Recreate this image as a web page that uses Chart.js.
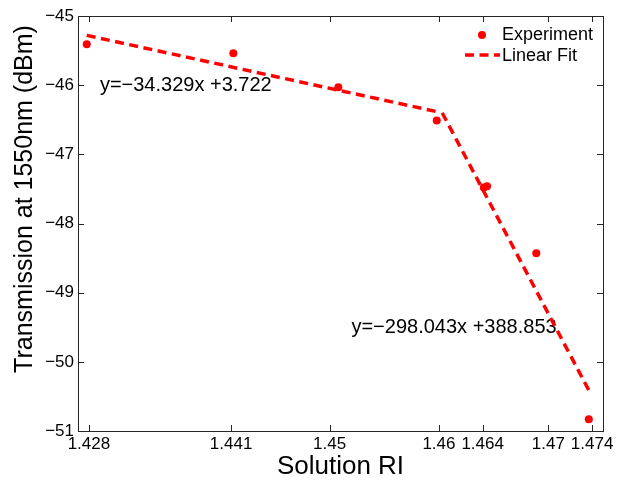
<!DOCTYPE html>
<html>
<head>
<meta charset="utf-8">
<script src="https://cdn.jsdelivr.net/npm/chart.js@4.4.1/dist/chart.umd.min.js"></script>
<style>
html,body{margin:0;padding:0;background:#fff;}
canvas{display:block;}
</style>
</head>
<body>
<canvas id="c" width="628" height="480"></canvas>
<script>
// ---- data ----
const solutionRI   = [1.4278, 1.4412, 1.4508, 1.4598, 1.4641, 1.4644, 1.4689, 1.4737];
const transmission = [-45.41, -45.54, -46.03, -46.51, -47.48, -47.46, -48.43, -50.83];
const fit1X = [1.4278, 1.4600];
const fit1Y = [-45.28, -46.39];
const fit2X = [1.4603, 1.4737];
const fit2Y = [-46.40, -50.41];
const xTickValues = [1.428, 1.441, 1.45, 1.46, 1.464, 1.47, 1.474];
const xTickLabels = ['1.428', '1.441', '1.45', '1.46', '1.464', '1.47', '1.474'];
const yTickValues = [-45, -46, -47, -48, -49, -50, -51];
const yTickLabels = ['\u221245', '\u221246', '\u221247', '\u221248', '\u221249', '\u221250', '\u221251'];
const annotationTexts = ['y=\u221234.329x +3.722', 'y=\u2212298.043x +388.853'];
const annotationX = [1.4290, 1.4520];
const annotationY = [-46.01, -49.50];
const legendLabels = ['Experiment', 'Linear Fit'];

const FONT = "'Liberation Sans', Arial, sans-serif";
const RED = '#ff0000';
const AXIS = '#262626';

const toXY = (xs, ys) => xs.map((x, i) => ({x: x, y: ys[i]}));

const framePlugin = {
  id: 'frame',
  beforeDatasetsDraw(chart) {
    const ctx = chart.ctx, a = chart.chartArea;
    const xs = chart.scales.x, ys = chart.scales.y;
    // annotations (drawn under the lines)
    ctx.save();
    ctx.fillStyle = '#000';
    ctx.font = '20px ' + FONT;
    ctx.textAlign = 'left';
    ctx.textBaseline = 'middle';
    annotationTexts.forEach((t, i) => {
      ctx.fillText(t, xs.getPixelForValue(annotationX[i]), ys.getPixelForValue(annotationY[i]));
    });
    ctx.restore();
  },
  afterDatasetsDraw(chart) {
    const ctx = chart.ctx, a = chart.chartArea;
    const xs = chart.scales.x, ys = chart.scales.y;
    const tl = 6;
    ctx.save();
    ctx.strokeStyle = AXIS;
    ctx.lineWidth = 1;
    ctx.beginPath();
    xTickValues.forEach(v => {
      const p = Math.round(xs.getPixelForValue(v)) + 0.5;
      ctx.moveTo(p, a.bottom); ctx.lineTo(p, a.bottom - tl);
      ctx.moveTo(p, a.top); ctx.lineTo(p, a.top + tl);
    });
    yTickValues.forEach(v => {
      const p = Math.round(ys.getPixelForValue(v)) + 0.5;
      ctx.moveTo(a.left, p); ctx.lineTo(a.left + tl, p);
      ctx.moveTo(a.right, p); ctx.lineTo(a.right - tl, p);
    });
    ctx.stroke();
    ctx.strokeRect(a.left + 0.5, a.top + 0.5, a.right - a.left, a.bottom - a.top);

    // y axis title
    ctx.fillStyle = '#000';
    ctx.font = '25px ' + FONT;
    ctx.textAlign = 'center';
    ctx.textBaseline = 'middle';
    ctx.translate(25, 199);
    ctx.rotate(-Math.PI / 2);
    ctx.fillText('Transmission at 1550nm (dBm)', 0, 0);
    ctx.setTransform(1, 0, 0, 1, 0, 0);

    // legend
    const lx = 482, ly1 = 35, ly2 = 55;
    ctx.fillStyle = RED;
    ctx.beginPath();
    ctx.arc(lx, ly1, 4, 0, Math.PI * 2);
    ctx.fill();
    ctx.strokeStyle = RED;
    ctx.lineWidth = 3.5;
    ctx.setLineDash([9, 5.5]);
    ctx.beginPath();
    ctx.moveTo(465, ly2); ctx.lineTo(500, ly2);
    ctx.stroke();
    ctx.setLineDash([]);
    ctx.fillStyle = '#000';
    ctx.font = '18px ' + FONT;
    ctx.textAlign = 'left';
    ctx.textBaseline = 'middle';
    ctx.fillText(legendLabels[0], 502, ly1);
    ctx.fillText(legendLabels[1], 502, ly2 + 1);
    ctx.restore();
  }
};

new Chart(document.getElementById('c'), {
  type: 'scatter',
  data: {
    datasets: [
      {
        label: legendLabels[1],
        data: toXY(fit1X, fit1Y),
        showLine: true,
        borderColor: RED,
        borderWidth: 3.5,
        borderDash: [9, 5.5],
        pointRadius: 0,
        fill: false
      },
      {
        label: legendLabels[1] + ' 2',
        data: toXY(fit2X, fit2Y),
        showLine: true,
        borderColor: RED,
        borderWidth: 3.5,
        borderDash: [9, 5.5],
        pointRadius: 0,
        fill: false
      },
      {
        label: legendLabels[0],
        data: toXY(solutionRI, transmission),
        showLine: false,
        pointRadius: 4,
        pointBackgroundColor: RED,
        pointBorderColor: RED,
        pointBorderWidth: 0
      }
    ]
  },
  options: {
    responsive: false,
    animation: false,
    devicePixelRatio: 1,
    layout: {padding: {top: 16, right: 25, left: 0, bottom: 0}},
    plugins: {legend: {display: false}, tooltip: {enabled: false}},
    scales: {
      x: {
        type: 'linear',
        min: 1.427,
        max: 1.475,
        afterBuildTicks: s => { s.ticks = xTickValues.map(v => ({value: v})); },
        afterFit: s => { s.height = 49; },
        grid: {display: false, drawTicks: false},
        border: {display: false},
        ticks: {
          padding: 3,
          color: '#000',
          font: {family: FONT, size: 17},
          maxRotation: 0,
          autoSkip: false,
          callback: (v) => { const i = xTickValues.indexOf(v); return i >= 0 ? xTickLabels[i] : ''; }
        },
        title: {
          display: true,
          text: 'Solution RI',
          color: '#000',
          font: {family: FONT, size: 26, lineHeight: 1},
          padding: 0
        }
      },
      y: {
        type: 'linear',
        min: -51,
        max: -45,
        afterBuildTicks: s => { s.ticks = yTickValues.map(v => ({value: v})); },
        afterFit: s => { s.width = 78; },
        grid: {display: false, drawTicks: false},
        border: {display: false},
        ticks: {
          padding: 4,
          color: '#000',
          font: {family: FONT, size: 17},
          autoSkip: false,
          callback: (v) => { const i = yTickValues.indexOf(v); return i >= 0 ? yTickLabels[i] : ''; }
        }
      }
    }
  },
  plugins: [framePlugin]
});
</script>
</body>
</html>
